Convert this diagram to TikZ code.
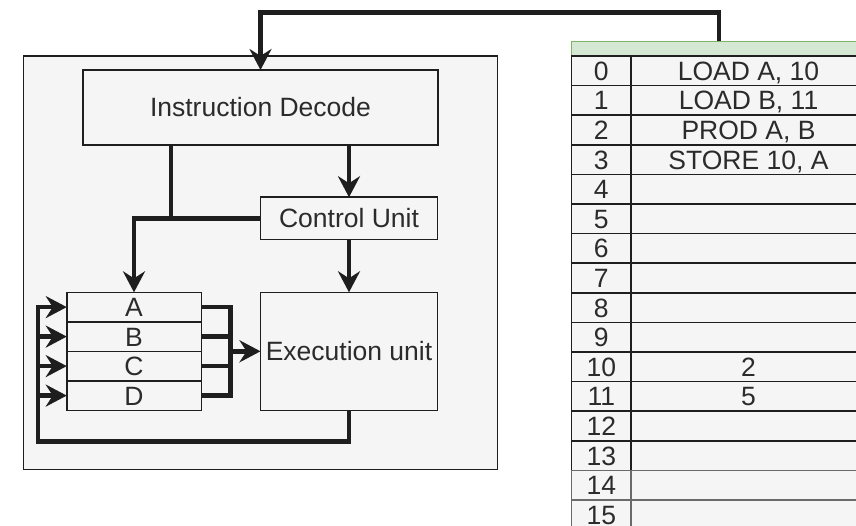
\documentclass[tikz,border=0pt]{standalone}
\usepackage{fontspec}
\setmainfont{Liberation Sans}
\usepackage{tikz}
\usetikzlibrary{calc,positioning,arrows.meta}
\definecolor{boxgray}{HTML}{F5F5F5}
\definecolor{inkline}{HTML}{1E1E1E}
\definecolor{inktext}{HTML}{2B2B2B}
\definecolor{headfill}{HTML}{D5E8D4}
\definecolor{headline}{HTML}{82B366}
\definecolor{lowline}{HTML}{6A6A6A}

\begin{document}
\begin{tikzpicture}[
  x=1pt, y=-1pt,
  font=\fontsize{26.5}{30}\selectfont,
  unit/.style={draw=inkline, line width=1.5pt, fill=boxgray, text=inktext,
    inner sep=0pt, outer sep=0pt},
  cell/.style={unit, minimum height=29.6pt, anchor=north west,
    text height=19pt, text depth=0pt},
  reg/.style={unit, minimum width=134.5pt, minimum height=29.5pt,
    text height=19pt, text depth=0pt},
  wire/.style={draw=inkline, line width=4.5pt},
  feed/.style={wire, -{Stealth[length=21pt,width=22pt,inset=7pt]}},
]
  \useasboundingbox (0,0) rectangle (856,526);
  \clip (0,0) rectangle (856,526);
  % processor
  \node [unit, minimum width=474pt, minimum height=413.5pt]
    (cpu) at (260.5,262.75) {}
  ;
  \node [unit, minimum width=355pt, minimum height=75pt]
    (decode) at (260.5,107.5) {Instruction Decode}
  ;
  \node [unit, minimum width=177pt, minimum height=42.5pt]
    (ctrl) at (349,218.5) {Control Unit}
  ;
  \node [unit, minimum width=177pt, minimum height=118pt]
    (exec) at (349,351.3) {Execution unit}
  ;
  % registers
  \node [reg] (regA) at (134,307.1) {A};
  \node [reg, below=0pt of regA] (regB) {B};
  \node [reg, below=0pt of regB] (regC) {C};
  \node [reg, below=0pt of regC] (regD) {D};
  % memory
  \node [unit, fill=headfill, draw=headline, anchor=north west,
    minimum width=295pt, minimum height=14.5pt]
    (memhead) at (571.5,41.5) {}
  ;
  \foreach \n/\op in {0/{LOAD A, 10}, 1/{LOAD B, 11}, 2/{PROD A, B},
      3/{STORE 10, A}, 4/{}, 5/{}, 6/{}, 7/{}, 8/{}, 9/{}, 10/2, 11/5,
      12/{}, 13/{}} {
    \node [cell, minimum width=59.5pt] (addr\n) at (571.5,{56+29.6*\n}) {\n};
    \node [cell, minimum width=235pt] (word\n) at (631,{56+29.6*\n}) {\op};
  }
  \foreach \n in {14,15} {
    \node [cell, draw=lowline, minimum width=59.5pt]
      (addr\n) at (571.5,{56+29.6*\n}) {\n};
    \node [cell, draw=lowline, minimum width=235pt]
      (word\n) at (631,{56+29.6*\n}) {};
  }
  \draw [draw=inkline, line width=2.5pt] (addr0.north east) -- (addr13.south east);
  % fetch
  \draw [feed]
    (memhead.north)
    -- ++(0,-29)
    -| (decode.north)
  ;
  % decode to control
  \draw [feed] (decode.south -| ctrl.north) -- (ctrl.north);
  \coordinate (selTap) at ($(decode.south)+(-89.5,0)$);
  \draw [wire] (selTap) -- (selTap |- ctrl.west);
  % register select
  \draw [feed] (ctrl.west) -| (regA.north);
  \draw [feed] (ctrl.south) -- (exec.north);
  % operands out
  \coordinate (outBus) at ($(regA.east)+(29,0)$);
  \draw [wire]
    (regA.east)
    -| (regD.east -| outBus)
    -- (regD.east)
  ;
  \draw [wire] (regB.east) -- (regB.east -| outBus);
  \draw [wire] (regC.east) -- (regC.east -| outBus);
  \draw [feed] (exec.west -| outBus) -- (exec.west);
  % write back
  \coordinate (inBus) at ($(regA.west)+(-29,0)$);
  \draw [feed]
    (exec.south)
    -- ++(0,31)
    -| (inBus)
    -- (regA.west)
  ;
  \foreach \r in {B,C,D}
    \draw [feed] (reg\r.west -| inBus) -- (reg\r.west);
\end{tikzpicture}
\end{document}
